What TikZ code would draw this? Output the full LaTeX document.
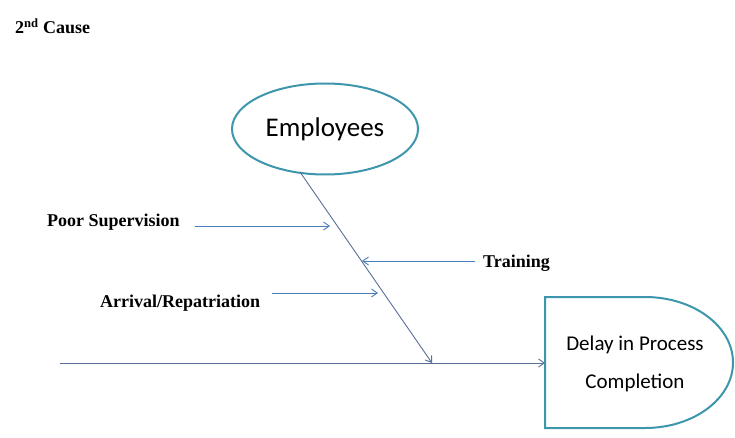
\documentclass[tikz,border=0pt]{standalone}
\usepackage{fontspec}
\setmainfont{Liberation Serif}
\newfontfamily\calib{Carlito}
\usetikzlibrary{arrows.meta,shapes.geometric}
\definecolor{branchblue}{RGB}{74,126,187}
\definecolor{spineblue}{RGB}{88,112,150}
\definecolor{outlineteal}{RGB}{62,150,172}
\tikzset{
  causelabel/.style={inner sep=0pt, font=\fontsize{18}{21}\selectfont\bfseries},
  branch/.style={draw=branchblue, line width=0.9pt, -{Straight Barb[angle=70:7pt]}},
  spine/.style={draw=spineblue, line width=0.9pt, -{Straight Barb[angle=70:7pt]}},
  outline/.style={draw=outlineteal, line width=2pt},
}
\begin{document}
\begin{tikzpicture}[x=1pt,y=1pt]
  \useasboundingbox (0,0) rectangle (735,437);
  \fill[white] (0,0) rectangle (735,437);

  % heading
  \node[causelabel, anchor=base west] (title) at (15,403)
    {2\textsuperscript{nd} Cause};

  % category bubble
  \node[outline, ellipse, minimum width=186pt, minimum height=91pt,
        font=\calib\fontsize{27}{30}\selectfont] (emp) at (325,308) {Employees};

  % effect head (D-shaped box)
  \draw[outline] (545,140) -- (645,140)
    arc[start angle=90, end angle=-90, x radius=88, y radius=65.5]
    -- (545,9) -- cycle;
  \coordinate (effw) at (545,74);
  \node[align=center, inner sep=0pt, font=\calib\fontsize{21}{38}\selectfont] (eff)
    at (635,73) {Delay in Process\\Completion};

  % spine and category bone
  \coordinate (tail) at (60,74);
  \coordinate (join) at (432,74);
  \coordinate (boneTop) at (300,265);
  \draw[spine] (tail) -- (effw);
  \draw[spine] (boneTop) -- (join);

  % sub-causes
  \node[causelabel, anchor=west] (sup) at (47,215) {Poor Supervision};
  \node[causelabel, anchor=west] (trn) at (483,174) {Training};
  \node[causelabel, anchor=west] (arr) at (100,134) {Arrival/Repatriation};

  \coordinate (supS) at (195,211);
  \coordinate (supE) at (330,211);
  \coordinate (trnS) at (475,176);
  \coordinate (trnE) at (362,176);
  \coordinate (arrS) at (272,144);
  \coordinate (arrE) at (378,144);
  \draw[branch] (supS) -- (supE);
  \draw[branch] (trnS) -- (trnE);
  \draw[branch] (arrS) -- (arrE);
\end{tikzpicture}
\end{document}
